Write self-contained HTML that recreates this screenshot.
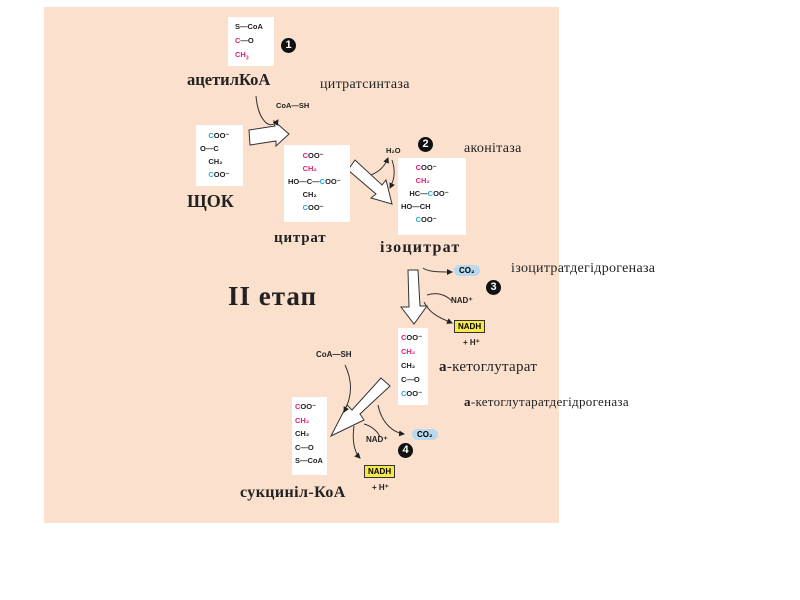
<!DOCTYPE html>
<html><head><meta charset="utf-8"><style>
body{margin:0;width:800px;height:600px;background:#fff;position:relative;overflow:hidden;font-family:"Liberation Sans",sans-serif}
.bg{position:absolute;left:44px;top:7px;width:515px;height:516px;background:#fbe1cd}
.box{position:absolute;background:#fff}
.t{position:absolute;font-size:7.5px;font-weight:bold;white-space:nowrap;color:#222;line-height:9px}
.m{color:#e0207a}.c{color:#2aa6d8}
.s{position:absolute;font-family:"Liberation Serif",serif;white-space:nowrap;color:#222}
.r{font-size:14px;letter-spacing:0.3px}
.b{font-weight:bold}
.n{position:absolute;width:15px;height:15px;border-radius:50%;background:#111;color:#fff;font-size:11px;font-weight:bold;text-align:center;line-height:15px}
.y{position:absolute;background:#f6e84a;border:1px solid #333;font-size:8px;font-weight:bold;padding:0 3px;line-height:11px}
.co{position:absolute;background:#b8d9ee;border-radius:8px;font-size:8px;font-weight:bold;padding:1px 5px}
</style></head><body>
<div class="bg"></div>
<svg width="800" height="600" style="position:absolute;left:0;top:0">
<defs><marker id="a" markerWidth="6" markerHeight="6" refX="5" refY="3" orient="auto"><path d="M0,0L6,3L0,6z" fill="#222"/></marker></defs>
<g fill="#fff" stroke="#333" stroke-width="1">
<path d="M249,130 L275,126 L274,121 L289,134 L276,146 L276,141 L250,145 z"/>
<path d="M355,160 L382,185 L386,180 L392,204 L371,198 L376,194 L348,170 z"/>
<path d="M408,270 L418,270 L420,306 L427,306 L414,324 L401,307 L409,307 z"/>
<path d="M390,386 L360,414 L364,420 L331,436 L347,405 L352,410 L381,378 z"/>
</g>
<g fill="none" stroke="#333" stroke-width="1">
<path d="M256,96 C258,120 270,132 278,120" marker-end="url(#a)"/>
<path d="M371,175 C378,172 384,168 388,158" marker-end="url(#a)"/>
<path d="M392,160 C396,172 394,180 390,188" marker-end="url(#a)"/>
<path d="M423,268 C428,272 440,272 452,272" marker-end="url(#a)"/>
<path d="M427,295 C436,292 445,294 452,301"/>
<path d="M424,302 C430,314 440,318 452,323" marker-end="url(#a)"/>
<path d="M345,365 C352,380 353,395 344,412" marker-end="url(#a)"/>
<path d="M378,405 C382,425 395,433 404,434" marker-end="url(#a)"/>
<path d="M364,424 C372,426 378,432 380,437"/>
<path d="M354,426 C352,440 354,452 360,458" marker-end="url(#a)"/>
</g>
</svg>
<div class="box" style="left:228px;top:17px;width:46px;height:49px"></div>
<div class="t" style="left:235px;top:20px;line-height:14px">S—CoA<br><span class="m">C</span>—O<br><span class="m">CH<sub style="font-size:5px">3</sub></span></div>
<div class="n" style="left:281px;top:38px">1</div>
<div class="s b" style="left:187px;top:70px;font-size:16.5px">ацетилКоА</div>
<div class="s r" style="left:320px;top:77px">цитратсинтаза</div>
<div class="t" style="left:276px;top:101px">CoA—SH</div>
<div class="box" style="left:196px;top:125px;width:47px;height:61px"></div>
<div class="t" style="left:200px;top:129px;line-height:13px">&nbsp;&nbsp;&nbsp;&nbsp;<span class="c">C</span>OO⁻<br>O—C<br>&nbsp;&nbsp;&nbsp;&nbsp;CH₂<br>&nbsp;&nbsp;&nbsp;&nbsp;<span class="c">C</span>OO⁻</div>
<div class="s b" style="left:187px;top:191px;font-size:18px">ЩОК</div>
<div class="box" style="left:284px;top:145px;width:66px;height:77px"></div>
<div class="t" style="left:288px;top:149px;line-height:13px">&nbsp;&nbsp;&nbsp;&nbsp;&nbsp;&nbsp;&nbsp;<span class="m">C</span>OO⁻<br>&nbsp;&nbsp;&nbsp;&nbsp;&nbsp;&nbsp;&nbsp;<span class="m">CH₂</span><br>HO—C—<span class="c">C</span>OO⁻<br>&nbsp;&nbsp;&nbsp;&nbsp;&nbsp;&nbsp;&nbsp;CH₂<br>&nbsp;&nbsp;&nbsp;&nbsp;&nbsp;&nbsp;&nbsp;<span class="c">C</span>OO⁻</div>
<div class="s b" style="left:274px;top:230px;font-size:15px;letter-spacing:0.8px">цитрат</div>
<div class="t" style="left:386px;top:146px">H₂O</div>
<div class="n" style="left:418px;top:137px">2</div>
<div class="s r" style="left:464px;top:141px">аконітаза</div>
<div class="box" style="left:398px;top:158px;width:68px;height:77px"></div>
<div class="t" style="left:401px;top:161px;line-height:13px">&nbsp;&nbsp;&nbsp;&nbsp;&nbsp;&nbsp;&nbsp;<span class="m">C</span>OO⁻<br>&nbsp;&nbsp;&nbsp;&nbsp;&nbsp;&nbsp;&nbsp;<span class="m">CH₂</span><br>&nbsp;&nbsp;&nbsp;&nbsp;HC—<span class="c">C</span>OO⁻<br>HO—CH<br>&nbsp;&nbsp;&nbsp;&nbsp;&nbsp;&nbsp;&nbsp;<span class="c">C</span>OO⁻</div>
<div class="s b" style="left:380px;top:239px;font-size:16px;letter-spacing:1.2px">ізоцитрат</div>
<div class="s b" style="left:228px;top:281px;font-size:27px;letter-spacing:1px">II етап</div>
<div class="co" style="left:454px;top:265px">CO₂</div>
<div class="s r" style="left:511px;top:261px">ізоцитратдегідрогеназа</div>
<div class="n" style="left:486px;top:280px">3</div>
<div class="t" style="left:451px;top:296px;font-size:8px">NAD⁺</div>
<div class="y" style="left:454px;top:320px">NADH</div>
<div class="t" style="left:463px;top:338px;font-size:8px">+ H⁺</div>
<div class="box" style="left:398px;top:328px;width:30px;height:77px"></div>
<div class="t" style="left:401px;top:331px;line-height:14px"><span class="m">C</span>OO⁻<br><span class="m">CH₂</span><br>CH₂<br>C—O<br><span class="c">C</span>OO⁻</div>
<div class="s" style="left:439px;top:359px;font-size:15px;letter-spacing:0.3px"><b>а</b>-кетоглутарат</div>
<div class="s" style="left:464px;top:394px;font-size:13px;letter-spacing:0.3px"><b>а</b>-кетоглутаратдегідрогеназа</div>
<div class="t" style="left:316px;top:350px;font-size:8px">CoA—SH</div>
<div class="box" style="left:292px;top:397px;width:35px;height:78px"></div>
<div class="t" style="left:295px;top:400px;line-height:13.5px"><span class="m">C</span>OO⁻<br><span class="m">CH₂</span><br>CH₂<br>C—O<br>S—CoA</div>
<div class="t" style="left:366px;top:435px;font-size:8px">NAD⁺</div>
<div class="co" style="left:412px;top:429px">CO₂</div>
<div class="n" style="left:398px;top:443px">4</div>
<div class="y" style="left:364px;top:465px">NADH</div>
<div class="t" style="left:372px;top:483px;font-size:8px">+ H⁺</div>
<div class="s b" style="left:240px;top:484px;font-size:16px;letter-spacing:0.4px">сукциніл-КоА</div>
</body></html>
